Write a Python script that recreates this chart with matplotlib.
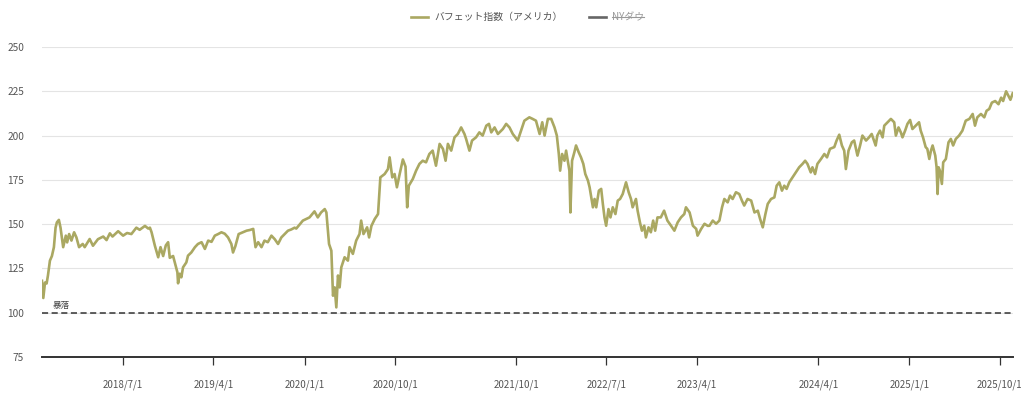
"""
Buffett indicator (US) line chart with crash threshold line.
Output: out.png
"""

import pandas as pd
import matplotlib
matplotlib.use("Agg")
import matplotlib.pyplot as plt
import matplotlib.dates as mdates
from matplotlib.lines import Line2D

# ---------------------------------------------------------------------------
# Data
# ---------------------------------------------------------------------------
dates = [
    "2017-10-30", "2017-11-03", "2017-11-08", "2017-11-13", "2017-11-17", "2017-11-23",
    "2017-11-29", "2017-12-05", "2017-12-10", "2017-12-14", "2017-12-20", "2017-12-25",
    "2018-01-02", "2018-01-10", "2018-01-14", "2018-01-20", "2018-01-27", "2018-02-04",
    "2018-02-11", "2018-02-19", "2018-03-02", "2018-03-08", "2018-03-23", "2018-04-02",
    "2018-04-17", "2018-05-03", "2018-05-13", "2018-05-23", "2018-05-31", "2018-06-17",
    "2018-07-02", "2018-07-14", "2018-07-27", "2018-08-11", "2018-08-21", "2018-09-06",
    "2018-09-16", "2018-09-21", "2018-09-26", "2018-10-06", "2018-10-16", "2018-10-23",
    "2018-10-31", "2018-11-08", "2018-11-15", "2018-11-20", "2018-11-30", "2018-12-05",
    "2018-12-13", "2018-12-15", "2018-12-20", "2018-12-25", "2018-12-30",
    "2019-01-09", "2019-01-14", "2019-01-24", "2019-02-04", "2019-02-13", "2019-02-24",
    "2019-03-06", "2019-03-16", "2019-03-26", "2019-04-05", "2019-04-15", "2019-04-25",
    "2019-05-05", "2019-05-15", "2019-05-25", "2019-05-30", "2019-06-06", "2019-06-16",
    "2019-06-29", "2019-07-10", "2019-07-20", "2019-07-30", "2019-08-06", "2019-08-14",
    "2019-08-24", "2019-09-02", "2019-09-12", "2019-09-23", "2019-10-03", "2019-10-13",
    "2019-10-23", "2019-11-02", "2019-11-12", "2019-11-22", "2019-12-02", "2019-12-07",
    "2019-12-27",
    "2020-01-16", "2020-01-31", "2020-02-10", "2020-02-20", "2020-03-02", "2020-03-07",
    "2020-03-15", "2020-03-22", "2020-03-27", "2020-04-01", "2020-04-06", "2020-04-11",
    "2020-04-16", "2020-04-21", "2020-05-01", "2020-05-11", "2020-05-16", "2020-05-26",
    "2020-06-05", "2020-06-15", "2020-06-20", "2020-06-27", "2020-07-08", "2020-07-14",
    "2020-07-21", "2020-07-31", "2020-08-10", "2020-08-17", "2020-08-30", "2020-09-09",
    "2020-09-14", "2020-09-22", "2020-09-29", "2020-10-06", "2020-10-14", "2020-10-24",
    "2020-11-01", "2020-11-06", "2020-11-11", "2020-11-23", "2020-12-03", "2020-12-13",
    "2020-12-23",
    "2021-01-02", "2021-01-12", "2021-01-22", "2021-02-01", "2021-02-12", "2021-02-22",
    "2021-03-02", "2021-03-09", "2021-03-19", "2021-03-29", "2021-04-08", "2021-04-18",
    "2021-04-28", "2021-05-03", "2021-05-13", "2021-05-21", "2021-06-02", "2021-06-12",
    "2021-06-22", "2021-07-03", "2021-07-11", "2021-07-18", "2021-07-28", "2021-08-07",
    "2021-08-22", "2021-09-01", "2021-09-11", "2021-09-21", "2021-10-06", "2021-10-16",
    "2021-10-26", "2021-11-10", "2021-11-20", "2021-11-30", "2021-12-11", "2021-12-19",
    "2021-12-26",
    "2022-01-05", "2022-01-15", "2022-01-25", "2022-02-01", "2022-02-07", "2022-02-11",
    "2022-02-17", "2022-02-24", "2022-03-01", "2022-03-06", "2022-03-11", "2022-03-14",
    "2022-03-19", "2022-03-26", "2022-03-31", "2022-04-08", "2022-04-15", "2022-04-22",
    "2022-04-28", "2022-05-06", "2022-05-11", "2022-05-16", "2022-05-21", "2022-05-26",
    "2022-05-31", "2022-06-08", "2022-06-15", "2022-06-20", "2022-06-25", "2022-06-30",
    "2022-07-07", "2022-07-13", "2022-07-20", "2022-07-28", "2022-08-04", "2022-08-11",
    "2022-08-19", "2022-08-29", "2022-09-06", "2022-09-13", "2022-09-18", "2022-09-28",
    "2022-10-03", "2022-10-10", "2022-10-16", "2022-10-23", "2022-10-28", "2022-11-05",
    "2022-11-12", "2022-11-19", "2022-11-25", "2022-12-02", "2022-12-12", "2022-12-22",
    "2023-01-01", "2023-01-12", "2023-01-22", "2023-02-01", "2023-02-11", "2023-02-21",
    "2023-02-26", "2023-03-09", "2023-03-19", "2023-03-29", "2023-04-02", "2023-04-13",
    "2023-04-23", "2023-05-03", "2023-05-08", "2023-05-18", "2023-05-28", "2023-06-07",
    "2023-06-15", "2023-06-22", "2023-07-02", "2023-07-09", "2023-07-17", "2023-07-27",
    "2023-08-06", "2023-08-14", "2023-08-21", "2023-08-31", "2023-09-11", "2023-09-21",
    "2023-10-01", "2023-10-08", "2023-10-16", "2023-10-24", "2023-10-31", "2023-11-10",
    "2023-11-20", "2023-11-27", "2023-12-05", "2023-12-13", "2023-12-20", "2023-12-27",
    "2024-01-04", "2024-01-14", "2024-01-24", "2024-02-03", "2024-02-13", "2024-02-21",
    "2024-02-28", "2024-03-09", "2024-03-14", "2024-03-22", "2024-03-29", "2024-04-09",
    "2024-04-19", "2024-04-27", "2024-05-06", "2024-05-19", "2024-05-26", "2024-06-03",
    "2024-06-11", "2024-06-18", "2024-06-23", "2024-07-01", "2024-07-11", "2024-07-18",
    "2024-07-28", "2024-08-05", "2024-08-12", "2024-08-23", "2024-09-01", "2024-09-09",
    "2024-09-16", "2024-09-21", "2024-09-26", "2024-10-04", "2024-10-12", "2024-10-17",
    "2024-10-27", "2024-11-06", "2024-11-16", "2024-11-21", "2024-11-29", "2024-12-06",
    "2024-12-11", "2024-12-19", "2024-12-26",
    "2025-01-03", "2025-01-10", "2025-01-20", "2025-01-30", "2025-02-04", "2025-02-11",
    "2025-02-19", "2025-02-24", "2025-03-02", "2025-03-07", "2025-03-12", "2025-03-20",
    "2025-03-24", "2025-03-27", "2025-03-30", "2025-04-03", "2025-04-09", "2025-04-13",
    "2025-04-21", "2025-04-29", "2025-05-06", "2025-05-13", "2025-05-21", "2025-05-31",
    "2025-06-10", "2025-06-20", "2025-07-01", "2025-07-11", "2025-07-18", "2025-07-25",
    "2025-08-05", "2025-08-15", "2025-08-22", "2025-08-30", "2025-09-07", "2025-09-17",
    "2025-09-27", "2025-10-05", "2025-10-11", "2025-10-20", "2025-10-27", "2025-11-02",
    "2025-11-09",
]

buffett = [
    118, 108.3, 117, 116.5, 121, 129.4,
    132, 137, 148, 151, 152.4, 148,
    137, 143.5, 139.7, 144.4, 140.7, 145.4,
    142.5, 137, 138.8, 137, 141.6, 137.8,
    141.5, 143, 141, 144.8, 143, 146,
    143.5, 145, 144.4, 148, 146.8, 149,
    147.5, 148, 145.4, 137.8, 131.3, 137,
    132, 138, 139.8, 131, 132, 128.4,
    122.8, 116.6, 122, 120, 125.6,
    128.4, 132.2, 134, 137, 138.8, 139.8,
    136, 140.7, 140, 143.5, 144.4, 145.4,
    144.6, 142.5, 138.8, 134, 137.5, 144.4,
    145.4, 146.3, 146.7, 147.3, 137, 139.8,
    137, 140.7, 139.8, 143.5, 141.5, 138.8,
    142.5, 144.4, 146.3, 147, 148, 147.5,
    152,
    153.8, 157.2, 153.8, 156.6, 158.5, 156.6,
    138.8, 135, 109.6, 114.3, 103, 121,
    114.3, 125.6, 131.3, 129.4, 137, 133.2,
    140.7, 144.4, 152, 144.4, 148.2, 142.5,
    149, 152.9, 155.7, 176.4, 178.3, 181.1,
    187.7, 176.4, 178.3, 170.8, 178, 186.5,
    182.5, 159.5, 171.7, 175.5, 180.2, 184,
    185.8,
    184.9, 189.6, 191.5, 183, 195.3, 192.5,
    185.8, 195.3, 191.5, 199, 200.9, 204.6,
    200.9, 198.1, 191.5, 197.2, 199, 201.8,
    200, 205.6, 206.6, 201.8, 204.6, 200.9,
    203.7, 206.6, 204.6, 200.9, 197.2, 202.8,
    208.4, 210.3, 209.4, 208.4, 200.9, 207.5,
    200,
    209.4, 209.4, 204.6, 200, 189.6, 180.2,
    189.6, 185.8, 191.5, 185.8, 180.2, 156.6,
    185.8, 190.6, 194.4, 190.6, 187.7, 184,
    178.3, 174.6, 170.8, 165.1, 159.5, 164.2,
    159.5, 168.9, 169.9, 161.4, 153.8, 149.1,
    158.5, 153.8, 159.5, 155.7, 163.3, 164.2,
    167, 173.6, 168, 164.2, 159.5, 164.2,
    157.6, 151, 146.3, 149.1, 142.5, 148.2,
    145.4, 152, 146.3, 153.8, 153.8, 157.6,
    152, 149.1, 146.3, 151, 153.8, 155.7,
    159.5, 156.6, 149.1, 147.3, 143.5, 147.3,
    150.2, 149, 149.1, 152, 150.2, 152,
    159.5, 164.2, 162.3, 166.1, 164.2, 168,
    167, 163.3, 160.5, 164.2, 163.3, 156.6,
    157.6, 152.9, 148.2, 155.7, 161.4, 164.2,
    165.1, 171.7, 173.6, 168.9, 171.7, 169.9,
    173.6, 176.4, 179.2, 182.1, 184, 185.8,
    184, 179.2, 182.1, 178.3, 184, 186.8,
    189.6, 187.7, 192.5, 193.5, 197.2, 200.5,
    194.4, 191.5, 181.1, 191.5, 196.2, 197.2,
    188.7, 194.4, 200, 197.2, 199, 200.9,
    197.2, 194.4, 200, 202.8, 199, 205.6,
    207.5, 209.4, 207.5, 200, 204.6, 201.8,
    199, 202.8, 206.6,
    208.8, 203.7, 205.6, 207.5, 202.8, 199,
    193.5, 192.5, 186.8, 191.5, 194.4, 188.7,
    182.1, 167, 182.1, 180.2, 172.7, 184.9,
    186.8, 196.2, 198.1, 194.4, 198.1, 200,
    202.8, 208.4, 209.4, 212.2, 205.6, 210.3,
    212.2, 210.3, 214, 215, 218.6, 219.5,
    217.7, 221.4, 219.5, 225, 222.4, 220.2,
    223.9,
]
assert len(dates) == len(buffett)

crash_level = 100
crash_label = "暴落"
series_names = ["バフェット指数（アメリカ）", "NYダウ"]
tick_dates = ["2018-07-01", "2019-04-01", "2020-01-01", "2020-10-01", "2021-10-01",
              "2022-07-01", "2023-04-01", "2024-04-01", "2025-01-01", "2025-10-01"]
tick_labels = ["2018/7/1", "2019/4/1", "2020/1/1", "2020/10/1", "2021/10/1",
               "2022/7/1", "2023/4/1", "2024/4/1", "2025/1/1", "2025/10/1"]
y_ticks = [75, 100, 125, 150, 175, 200, 225, 250]

# ---------------------------------------------------------------------------
# Style
# ---------------------------------------------------------------------------
plt.rcParams["font.family"] = ["Noto Sans CJK JP", "DejaVu Sans"]
OLIVE = "#aaa862"
DOW_GRAY = "#666666"
TEXT = "#555555"

df = pd.DataFrame({"date": pd.to_datetime(dates), "value": buffett})

fig = plt.figure(figsize=(10.24, 3.97), dpi=100)
ax = fig.add_axes([0.041, 0.1008, 0.948, 0.7808])

ax.plot(df["date"], df["value"], color=OLIVE, linewidth=1.9,
        solid_joinstyle="round", zorder=3)
ax.axhline(crash_level, color="#333333", linewidth=1.1,
           linestyle=(0, (4, 2.3)), zorder=2)
ax.annotate(crash_label, xy=(0.011, crash_level), xycoords=ax.get_yaxis_transform(),
            xytext=(0, 2), textcoords="offset points", fontsize=6.2,
            color="#444444", va="bottom", ha="left")

ax.set_xlim(pd.Timestamp("2017-10-30"), pd.Timestamp("2025-11-09"))
ax.set_ylim(75, 250)
ax.set_yticks(y_ticks)
ax.set_xticks(pd.to_datetime(tick_dates))
ax.set_xticklabels(tick_labels)

ax.grid(axis="y", color="#e4e4e4", linewidth=0.8, zorder=0)
for side in ["top", "right", "left"]:
    ax.spines[side].set_visible(False)
ax.spines["bottom"].set_color("#333333")
ax.spines["bottom"].set_linewidth(1.4)

ax.tick_params(axis="y", length=0, pad=13, labelsize=7.3, labelcolor=TEXT)
ax.tick_params(axis="x", length=6, width=0.9, color="#333333", pad=10,
               labelsize=7, labelcolor=TEXT)

# ---------------------------------------------------------------------------
# Legend (NY Dow series is hidden -> struck through)
# ---------------------------------------------------------------------------
handles = [Line2D([], [], color=OLIVE, linewidth=1.9),
           Line2D([], [], color=DOW_GRAY, linewidth=1.9)]
leg = fig.legend(handles, series_names, loc="center", bbox_to_anchor=(0.5155, 0.957),
                 ncol=2, frameon=False, fontsize=7.1, handlelength=1.72,
                 handletextpad=0.6, columnspacing=2.7)
leg.get_texts()[0].set_color(TEXT)
leg.get_texts()[1].set_color("#999999")

fig.canvas.draw()
bb = leg.get_texts()[1].get_window_extent(fig.canvas.get_renderer())
inv = fig.transFigure.inverted()
(x0, ym), (x1, _) = inv.transform([(bb.x0, (bb.y0 + bb.y1) / 2), (bb.x1, bb.y0)])
fig.add_artist(Line2D([x0, x1], [ym, ym], transform=fig.transFigure,
                      color="#999999", linewidth=0.8))

fig.savefig("out.png", dpi=100)
